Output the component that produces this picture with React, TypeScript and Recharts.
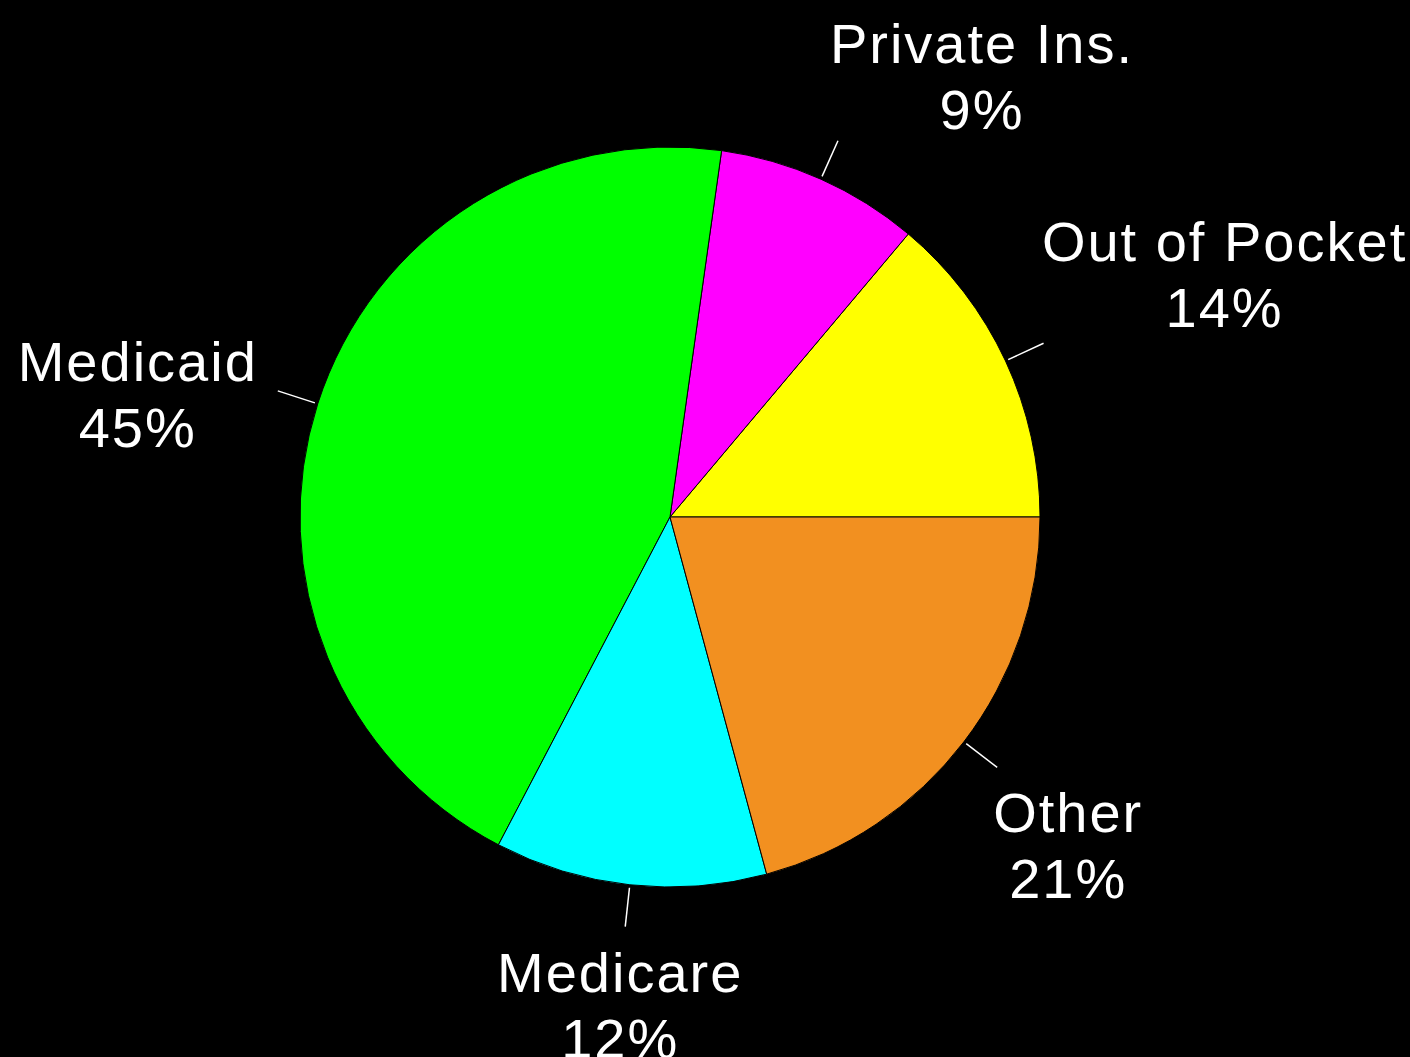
import { PieChart, Pie, Cell } from "recharts"

const payers = ["Out of Pocket", "Private Ins.", "Medicaid", "Medicare", "Other"]
const shares = [14, 9, 45, 12, 21]
const colors = ["#ffff00", "#ff00ff", "#00ff00", "#00ffff", "#f29020"]

const data = payers.map((name, i) => ({ name, value: shares[i] }))

// where each two-line label sits relative to the end of its leader line
const labelNudge: Record<string, [number, number]> = {
    "Out of Pocket": [181, -82],
    "Private Ins.": [144, -78],
    "Medicaid": [-140, -10],
    "Medicare": [-5, 65],
    "Other": [71, 65],
}

const RAD = Math.PI / 180

function renderLabel(props: any) {
    const { cx, cy, midAngle, outerRadius, name, value } = props
    const cos = Math.cos(-midAngle * RAD)
    const sin = Math.sin(-midAngle * RAD)
    const sx = cx + (outerRadius + 3) * cos
    const sy = cy + (outerRadius + 3) * sin
    const ex = cx + (outerRadius + 42) * cos
    const ey = cy + (outerRadius + 42) * sin
    const [dx, dy] = labelNudge[name] ?? [0, 0]
    return (
        <g>
            <line x1={sx} y1={sy} x2={ex} y2={ey} stroke="#ffffff" strokeWidth={1.5} />
            <text
                x={ex + dx}
                y={ey + dy}
                textAnchor="middle"
                fill="#ffffff"
                fontSize={56}
                letterSpacing={2}
                fontFamily="'Liberation Sans', Arial, sans-serif"
            >
                <tspan x={ex + dx} dy={0}>{name}</tspan>
                <tspan x={ex + dx} dy={66}>{value}%</tspan>
            </text>
        </g>
    )
}

export default function App() {
    return (
        <div style={{ position: "absolute", top: 0, left: 0, width: 1410, height: 1057, background: "#000", overflow: "hidden" }}>
            <PieChart width={1410} height={1057} margin={{ top: 0, right: 0, bottom: 0, left: 0 }}>
                <Pie
                    data={data}
                    dataKey="value"
                    nameKey="name"
                    cx={670}
                    cy={517}
                    outerRadius={370}
                    startAngle={0}
                    endAngle={360}
                    stroke="#000000"
                    strokeWidth={1}
                    label={renderLabel}
                    labelLine={false}
                    isAnimationActive={false}
                >
                    {data.map((d, i) => (
                        <Cell key={d.name} fill={colors[i]} />
                    ))}
                </Pie>
            </PieChart>
        </div>
    )
}
